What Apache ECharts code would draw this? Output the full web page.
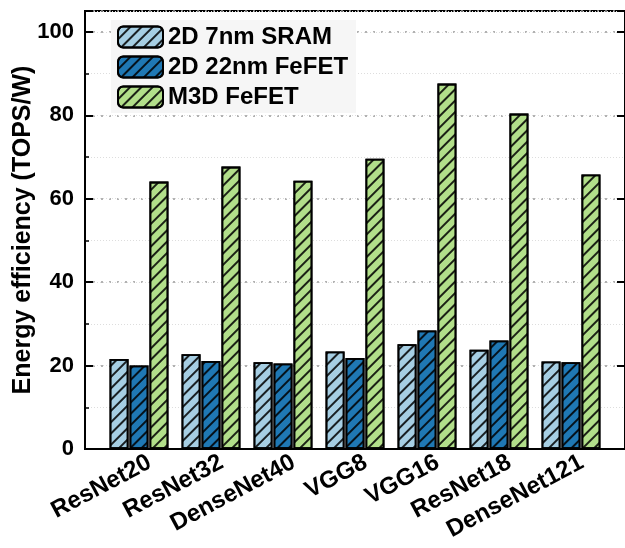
<!DOCTYPE html>
<html><head><meta charset="utf-8">
<script src="https://cdn.jsdelivr.net/npm/echarts@6/dist/echarts.min.js"></script>
<style>html,body{margin:0;padding:0;background:#fff}#c{width:625px;height:548px}</style>
</head><body><div id="c"></div>
<script>
var categories = ['ResNet20','ResNet32','DenseNet40','VGG8','VGG16','ResNet18','DenseNet121'];
var sram7 = [21.6, 22.7, 20.8, 23.4, 25.1, 23.8, 21.0];
var fefet22 = [20.0, 21.1, 20.5, 21.8, 28.4, 26.0, 20.8];
var m3d = [64.1, 67.7, 64.3, 69.6, 87.6, 80.4, 65.8];
var seriesNames = ['2D 7nm SRAM', '2D 22nm FeFET', 'M3D FeFET'];
var colors = ['#a6cee3', '#1f78b4', '#b2df8a'];
var yTicks = [0, 20, 40, 60, 80, 100];

var FONT = '"Liberation Sans", Arial, sans-serif';
var decal = {symbol: 'rect', symbolSize: 1, dashArrayX: [1, 0], dashArrayY: [1.6, 6], rotation: -Math.PI / 4, color: 'rgba(0,0,0,0.85)'};

function toPts(arr) { return arr.map(function (v, i) { return [i, v]; }); }
var allData = [sram7, fefet22, m3d];
var labelPos = categories.map(function (c, i) { return i + 0.15; });

var chart = echarts.init(document.getElementById('c'), null, {renderer: 'canvas'});
var series = allData.map(function (d, k) {
  return {
    name: seriesNames[k], type: 'bar', data: toPts(d), barWidth: 19, barGap: '5%',
    xAxisIndex: 0, yAxisIndex: 0,
    itemStyle: {color: colors[k], borderColor: '#000', borderWidth: 1.8, decal: decal}
  };
});
chart.setOption({
  animation: false,
  aria: {enabled: false},
  grid: {left: 85, right: 0, top: 11, bottom: 99, show: true, borderColor: '#000', borderWidth: 2,
         backgroundColor: 'transparent', outerBoundsMode: 'none', containLabel: false},
  legend: {
    left: 111, top: 20, orient: 'vertical', itemWidth: 45, itemHeight: 21, itemGap: 6,
    backgroundColor: '#f6f6f6', padding: [5, 8, 4, 6],
    textStyle: {fontFamily: FONT, fontWeight: 'bold', fontSize: 24, color: '#000', lineHeight: 22},
    data: seriesNames
  },
  xAxis: {
    type: 'value', min: -0.75, max: 6.75,
    axisLine: {show: true, onZero: false, lineStyle: {color: '#000', width: 2}},
    axisTick: {show: false}, splitLine: {show: false},
    axisLabel: {
      customValues: labelPos, rotate: 28, margin: 12, hideOverlap: false,
      fontFamily: FONT, fontWeight: 'bold', fontSize: 24, color: '#000',
      formatter: function (v) { return categories[Math.round(v)]; }
    }
  },
  yAxis: [{
    type: 'value', min: 0, max: 105, interval: 20, position: 'left',
    name: 'Energy efficiency (TOPS/W)', nameLocation: 'middle', nameGap: 49, nameMoveOverlap: false,
    nameTextStyle: {fontFamily: FONT, fontWeight: 'bold', fontSize: 25, color: '#000'},
    axisLine: {show: true, onZero: false, lineStyle: {color: '#000', width: 2}},
    axisTick: {show: true, inside: true, length: 8, lineStyle: {color: '#000', width: 2}},
    axisLabel: {customValues: yTicks, fontFamily: FONT, fontWeight: 'bold', fontSize: 22, color: '#000', margin: 11},
    splitLine: {show: true, lineStyle: {color: '#999', type: [2, 6], width: 1.5}}
  }, {
    type: 'value', min: 0, max: 105, interval: 10, position: 'left',
    axisLine: {show: false, onZero: false},
    axisTick: {show: true, inside: true, length: 4, lineStyle: {color: '#000', width: 1.5}},
    axisLabel: {show: false},
    splitLine: {show: true, lineStyle: {color: '#ddd', type: [1, 2], width: 1}}
  }, {
    type: 'value', min: 0, max: 105, interval: 20, position: 'right',
    axisLine: {show: true, onZero: false, lineStyle: {color: '#000', width: 2}},
    axisTick: {show: true, inside: true, length: 8, lineStyle: {color: '#000', width: 2}},
    axisLabel: {show: false}, splitLine: {show: false}
  }],
  series: series
});
</script></body></html>
